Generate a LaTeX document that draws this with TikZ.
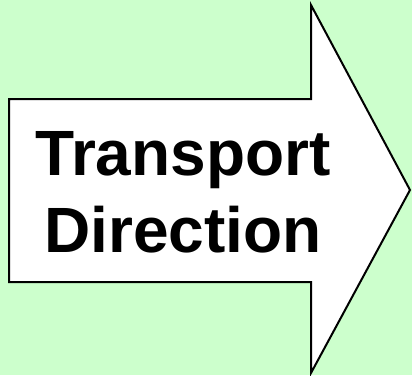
\documentclass[tikz,border=0pt]{standalone}
\usepackage{fontspec}
\setmainfont{Liberation Sans}
\usepackage{tikz}

\begin{document}
\begin{tikzpicture}[x=1pt, y=-1pt]

\fill[green!20] (0,0) rectangle (412,375);
\useasboundingbox (0,0) rectangle (412,375);
\draw[line width=2pt, fill=white, line join=miter]
  (9,99) -- (311,99) -- (311,5) -- (410,190) -- (311,373) -- (311,282) -- (9,282) -- cycle;
\node[align=center, font=\fontsize{64}{77}\selectfont\bfseries] (dirtext) at (183,192) {Transport\\Direction};

\end{tikzpicture}
\end{document}
